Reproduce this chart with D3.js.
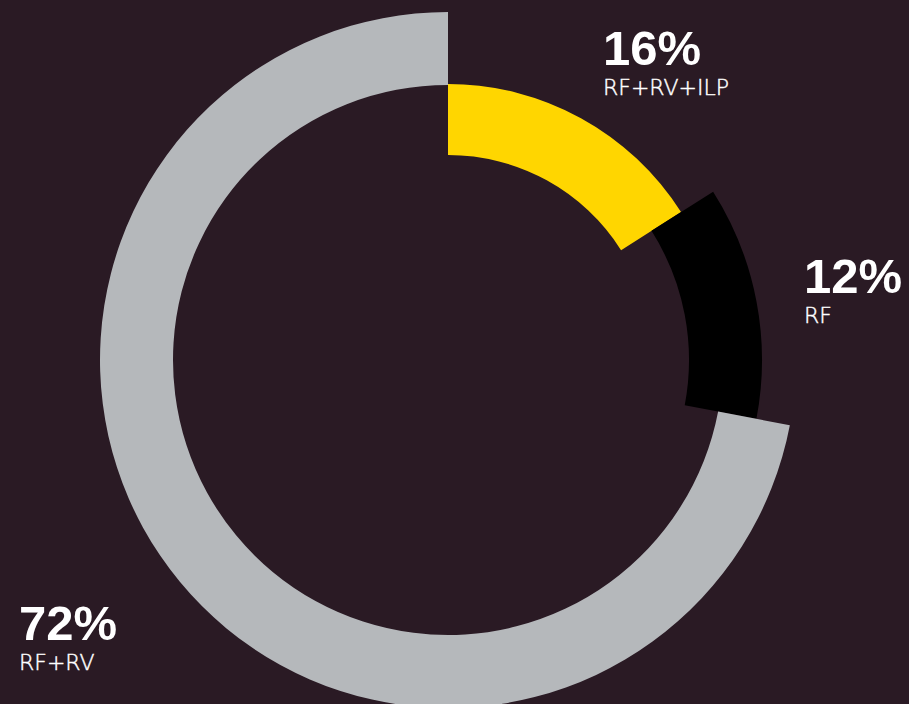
<!DOCTYPE html>
<html>
<head>
<meta charset="utf-8">
<script src="https://cdn.jsdelivr.net/npm/d3@7"></script>
<style>
  html, body { margin: 0; padding: 0; background: #2a1a24; }
  svg { display: block; }
  .pct { font-family: "Liberation Sans", Arial, sans-serif; font-weight: bold; fill: #fff; }
  .lbl { font-family: "DejaVu Sans", sans-serif; font-weight: 200; fill: #fff; stroke: #fff; stroke-width: 0.45px; }
</style>
</head>
<body>
<div id="chart"></div>
<script>
var categories = ['RF+RV+ILP', 'RF', 'RF+RV'];
var values = [16, 12, 72];
var colors = ['#ffd600', '#000000', '#b5b8bb'];

// ring geometry per slice (inner, outer)
var rings = [[205, 276], [241, 314], [275, 348]];
// label anchor per slice
var labelPos = [[603, 65], [804, 293], [19, 640]];

var width = 909, height = 704,
    cx = 448, cy = 360;

var svg = d3.select('#chart').append('svg')
    .attr('width', width)
    .attr('height', height);

svg.append('rect')
    .attr('width', width)
    .attr('height', height)
    .attr('fill', '#2a1a24');

var pie = d3.pie().sort(null).value(function(d){ return d; });
var arcs = pie(values);

var g = svg.append('g')
    .attr('transform', 'translate(' + cx + ',' + cy + ')');

g.selectAll('path')
    .data(arcs)
    .enter()
    .append('path')
    .attr('fill', function(d, i){ return colors[i]; })
    .attr('d', function(d, i){
        return d3.arc()
            .innerRadius(rings[i][0])
            .outerRadius(rings[i][1])(d);
    });

var labels = svg.selectAll('g.label')
    .data(arcs)
    .enter()
    .append('g')
    .attr('class', 'label')
    .attr('transform', function(d, i){
        return 'translate(' + labelPos[i][0] + ',' + labelPos[i][1] + ')';
    });

labels.append('text')
    .attr('class', 'pct')
    .attr('font-size', 49)
    .text(function(d){ return d.value + '%'; });

labels.append('text')
    .attr('class', 'lbl')
    .attr('font-size', 22)
    .attr('y', 30)
    .text(function(d, i){ return categories[i]; });
</script>
</body>
</html>
